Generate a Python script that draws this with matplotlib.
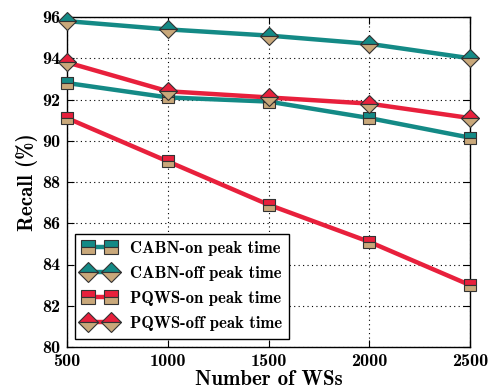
import numpy as np
import matplotlib
matplotlib.use('Agg')
import matplotlib.pyplot as plt

plt.rcParams['font.family'] = ['cmb10', 'DejaVu Serif']
plt.rcParams['axes.unicode_minus'] = False

# data
ws = [500, 1000, 1500, 2000, 2500]
cabn_on = [92.8, 92.1, 91.9, 91.1, 90.15]
cabn_off = [95.8, 95.4, 95.1, 94.7, 94.0]
pqws_on = [91.1, 89.0, 86.9, 85.1, 83.0]
pqws_off = [93.8, 92.4, 92.1, 91.8, 91.1]
labels = ['CABN-on peak time', 'CABN-off peak time',
          'PQWS-on peak time', 'PQWS-off peak time']

teal = '#148a86'
red = '#e8203c'
tan = '#c9a87a'

fig = plt.figure(figsize=(4.91, 3.91), dpi=100)
ax = fig.add_axes([67/491, 1-347/391, (470-67)/491, (347-17)/391])

series = [(cabn_on, teal, 's', 9), (cabn_off, teal, 'D', 9.5),
          (pqws_on, red, 's', 9), (pqws_off, red, 'D', 9.5)]
for (y, c, m, ms), lab in zip(series, labels):
    ax.plot(ws, y, color=c, lw=3.2, marker=m, ms=ms, fillstyle='top',
            markerfacecolor=c, markerfacecoloralt=tan,
            markeredgecolor='#333333', markeredgewidth=0.8,
            label=lab, clip_on=False, zorder=3)

ax.set_xlim(500, 2500)
ax.set_ylim(80, 96)
ax.set_xticks(ws)
ax.set_yticks(np.arange(80, 97, 2))
ax.tick_params(direction='in', top=True, right=True, labelsize=13, length=5,
               pad=5)
ax.grid(True, linestyle=(0, (1, 3)), color='black', lw=0.8)
for s in ax.spines.values():
    s.set_linewidth(1.0)

ax.set_xlabel('Number of WSs', fontsize=15, labelpad=1)
ax.set_ylabel('Recall (%)', fontsize=15, labelpad=3)

leg = ax.legend(loc='lower left', numpoints=2, fontsize=12, fancybox=False,
                framealpha=1, edgecolor='black', handlelength=2.0,
                borderpad=0.45, labelspacing=0.6, handletextpad=0.8,
                markerscale=1.1)
leg.get_frame().set_linewidth(1.0)

fig.savefig('out.png', dpi=100)
